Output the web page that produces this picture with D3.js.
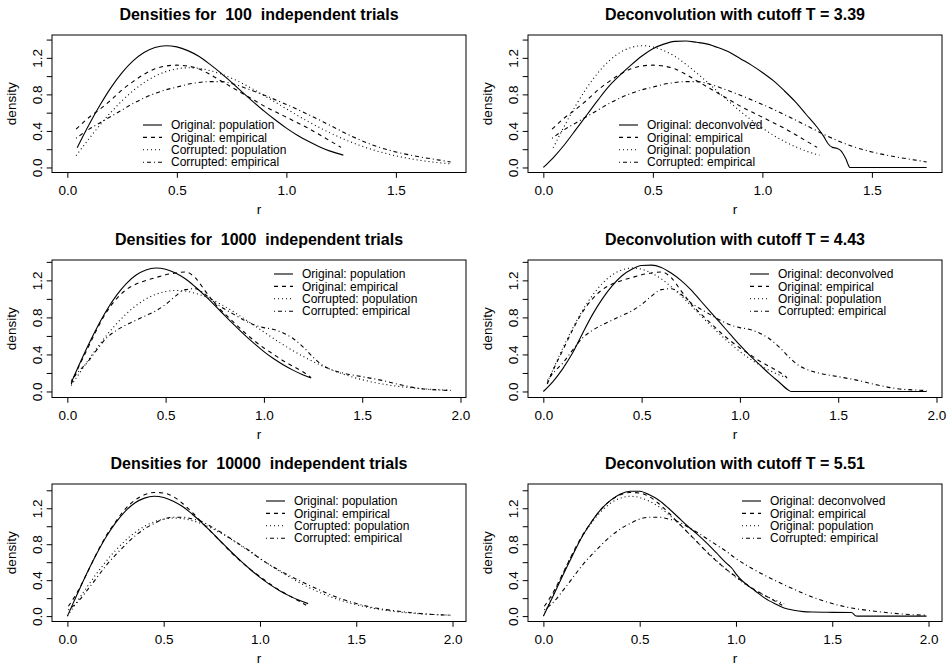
<!DOCTYPE html>
<html>
<head>
<meta charset="utf-8">
<script src="https://d3js.org/d3.v7.min.js"></script>
<style>
    html, body { margin: 0; padding: 0; background: #fff; }
    text { font-family: "Liberation Sans", Arial, Helvetica, sans-serif; fill: #000; }
</style>
</head>
<body>
<div id="chart"></div>
<script>
// ---- data: [r, density] ----
// row 1 (100 trials)
const popOrig1 = [[0.045,0.215],[0.1,0.472],[0.15,0.686],[0.2,0.877],[0.25,1.038],[0.3,1.166],[0.35,1.258],[0.4,1.313],[0.45,1.333],[0.5,1.32],[0.55,1.279],[0.6,1.217],[0.65,1.131],[0.7,1.035],[0.75,0.931],[0.8,0.822],[0.85,0.716],[0.9,0.614],[0.95,0.519],[1.0,0.431],[1.05,0.353],[1.1,0.286],[1.15,0.228],[1.2,0.179],[1.26,0.135]];
const empOrig1 = [[0.04,0.42],[0.1,0.55],[0.15,0.64],[0.2,0.74],[0.25,0.85],[0.3,0.94],[0.35,1.02],[0.4,1.08],[0.45,1.11],[0.5,1.12],[0.55,1.11],[0.6,1.08],[0.65,1.02],[0.7,0.95],[0.75,0.88],[0.8,0.81],[0.85,0.74],[0.9,0.67],[0.95,0.61],[1.0,0.55],[1.05,0.49],[1.1,0.43],[1.15,0.36],[1.2,0.29],[1.25,0.22]];
const popCorr1 = [[0.04,0.129],[0.1,0.318],[0.15,0.468],[0.2,0.607],[0.25,0.731],[0.3,0.839],[0.35,0.929],[0.4,0.999],[0.45,1.049],[0.5,1.079],[0.55,1.091],[0.6,1.085],[0.65,1.061],[0.7,1.025],[0.75,0.977],[0.8,0.919],[0.85,0.855],[0.9,0.785],[0.95,0.714],[1.0,0.642],[1.1,0.502],[1.2,0.378],[1.3,0.273],[1.4,0.19],[1.5,0.127],[1.6,0.082],[1.7,0.051],[1.75,0.04]];
const empCorr1 = [[0.04,0.32],[0.1,0.42],[0.15,0.49],[0.2,0.56],[0.25,0.63],[0.3,0.7],[0.35,0.76],[0.4,0.81],[0.45,0.85],[0.5,0.88],[0.55,0.91],[0.6,0.93],[0.65,0.94],[0.7,0.94],[0.75,0.92],[0.8,0.88],[0.9,0.79],[1.0,0.69],[1.1,0.58],[1.2,0.46],[1.3,0.34],[1.4,0.24],[1.5,0.17],[1.6,0.12],[1.7,0.08],[1.75,0.06]];
const deconv1 = [[0,0],[0.05,0.12],[0.1,0.26],[0.15,0.42],[0.2,0.58],[0.25,0.74],[0.3,0.89],[0.35,1.01],[0.4,1.12],[0.45,1.22],[0.5,1.3],[0.55,1.35],[0.6,1.38],[0.65,1.385],[0.7,1.37],[0.75,1.35],[0.8,1.31],[0.85,1.26],[0.9,1.19],[0.95,1.12],[1.0,1.04],[1.05,0.95],[1.1,0.84],[1.15,0.72],[1.2,0.58],[1.25,0.44],[1.28,0.34],[1.3,0.26],[1.32,0.22],[1.34,0.21],[1.36,0.18],[1.38,0.1],[1.4,0],[1.75,0]];

// row 2 (1000 trials)
const popOrig2 = [[0.02,0.097],[0.05,0.24],[0.1,0.472],[0.15,0.686],[0.2,0.877],[0.25,1.038],[0.3,1.166],[0.35,1.258],[0.4,1.313],[0.45,1.333],[0.5,1.32],[0.55,1.279],[0.6,1.217],[0.65,1.131],[0.7,1.035],[0.75,0.931],[0.8,0.822],[0.85,0.716],[0.9,0.614],[0.95,0.519],[1.0,0.431],[1.05,0.353],[1.1,0.286],[1.15,0.228],[1.2,0.179],[1.24,0.146]];
const empOrig2 = [[0.02,0.08],[0.05,0.23],[0.1,0.45],[0.15,0.67],[0.2,0.86],[0.25,1.0],[0.3,1.1],[0.35,1.16],[0.4,1.2],[0.45,1.23],[0.5,1.26],[0.55,1.28],[0.6,1.29],[0.65,1.23],[0.7,1.09],[0.75,0.95],[0.8,0.84],[0.85,0.74],[0.9,0.64],[0.95,0.55],[1.0,0.47],[1.05,0.4],[1.1,0.33],[1.15,0.27],[1.2,0.21],[1.24,0.15]];
const popCorr2 = [[0.02,0.065],[0.05,0.161],[0.1,0.318],[0.15,0.468],[0.2,0.607],[0.25,0.731],[0.3,0.839],[0.35,0.929],[0.4,0.999],[0.45,1.049],[0.5,1.079],[0.55,1.091],[0.6,1.085],[0.65,1.061],[0.7,1.025],[0.75,0.977],[0.8,0.919],[0.85,0.855],[0.9,0.785],[0.95,0.714],[1.0,0.642],[1.1,0.502],[1.2,0.378],[1.3,0.273],[1.4,0.19],[1.5,0.127],[1.6,0.082],[1.7,0.051],[1.8,0.031],[1.9,0.018],[1.95,0.013]];
const empCorr2 = [[0.02,0.12],[0.05,0.2],[0.1,0.31],[0.15,0.45],[0.2,0.58],[0.25,0.66],[0.3,0.72],[0.35,0.77],[0.4,0.82],[0.45,0.87],[0.5,0.94],[0.55,1.03],[0.6,1.1],[0.65,1.11],[0.7,1.05],[0.75,0.96],[0.8,0.89],[0.85,0.83],[0.9,0.77],[0.95,0.72],[1.0,0.69],[1.05,0.67],[1.1,0.63],[1.15,0.57],[1.2,0.48],[1.25,0.37],[1.3,0.28],[1.35,0.23],[1.4,0.2],[1.5,0.16],[1.6,0.12],[1.7,0.07],[1.8,0.03],[1.9,0.015],[1.95,0.01]];
const deconv2 = [[0,0],[0.05,0.11],[0.1,0.25],[0.15,0.42],[0.2,0.63],[0.25,0.83],[0.3,1.0],[0.35,1.14],[0.4,1.25],[0.45,1.32],[0.5,1.36],[0.55,1.365],[0.6,1.34],[0.65,1.28],[0.7,1.2],[0.75,1.1],[0.8,0.98],[0.85,0.86],[0.9,0.74],[0.95,0.62],[1.0,0.5],[1.05,0.39],[1.1,0.29],[1.15,0.19],[1.2,0.1],[1.25,0.01],[1.26,0],[1.95,0]];

// row 3 (10000 trials)
const popOrig3 = [[0,0],[0.05,0.24],[0.1,0.472],[0.15,0.686],[0.2,0.877],[0.25,1.038],[0.3,1.166],[0.35,1.258],[0.4,1.313],[0.45,1.333],[0.5,1.32],[0.55,1.279],[0.6,1.217],[0.65,1.131],[0.7,1.035],[0.75,0.931],[0.8,0.822],[0.85,0.716],[0.9,0.614],[0.95,0.519],[1.0,0.431],[1.05,0.353],[1.1,0.286],[1.15,0.228],[1.2,0.179],[1.25,0.139]];
const empOrig3 = [[0.005,0.11],[0.05,0.26],[0.1,0.47],[0.15,0.69],[0.2,0.89],[0.25,1.05],[0.3,1.19],[0.35,1.29],[0.4,1.35],[0.45,1.375],[0.5,1.37],[0.55,1.33],[0.6,1.25],[0.65,1.15],[0.7,1.04],[0.75,0.93],[0.8,0.82],[0.85,0.71],[0.9,0.61],[0.95,0.52],[1.0,0.44],[1.05,0.36],[1.1,0.29],[1.15,0.23],[1.2,0.17],[1.24,0.12]];
const popCorr3 = [[0,0],[0.05,0.161],[0.1,0.318],[0.15,0.468],[0.2,0.607],[0.25,0.731],[0.3,0.839],[0.35,0.929],[0.4,0.999],[0.45,1.049],[0.5,1.079],[0.55,1.091],[0.6,1.085],[0.65,1.061],[0.7,1.025],[0.75,0.977],[0.8,0.919],[0.85,0.855],[0.9,0.785],[0.95,0.714],[1.0,0.642],[1.1,0.502],[1.2,0.378],[1.3,0.273],[1.4,0.19],[1.5,0.127],[1.6,0.082],[1.7,0.051],[1.8,0.031],[1.9,0.018],[1.99,0.01]];
const empCorr3 = [[0.005,0.07],[0.05,0.15],[0.1,0.28],[0.15,0.42],[0.2,0.56],[0.25,0.68],[0.3,0.79],[0.35,0.89],[0.4,0.97],[0.45,1.03],[0.5,1.08],[0.55,1.1],[0.6,1.1],[0.65,1.08],[0.7,1.05],[0.75,0.99],[0.8,0.93],[0.85,0.86],[0.9,0.79],[0.95,0.72],[1.0,0.64],[1.1,0.51],[1.2,0.4],[1.3,0.3],[1.4,0.21],[1.5,0.14],[1.6,0.09],[1.7,0.06],[1.8,0.035],[1.9,0.018],[1.99,0.01]];
const deconv3 = [[0,0],[0.05,0.22],[0.1,0.45],[0.15,0.67],[0.2,0.88],[0.25,1.05],[0.3,1.19],[0.35,1.29],[0.4,1.36],[0.45,1.39],[0.5,1.39],[0.55,1.35],[0.6,1.29],[0.65,1.2],[0.7,1.1],[0.75,1.0],[0.8,0.91],[0.85,0.81],[0.9,0.7],[0.95,0.59],[0.98,0.53],[1.0,0.47],[1.02,0.42],[1.05,0.36],[1.1,0.28],[1.15,0.2],[1.2,0.14],[1.25,0.09],[1.3,0.065],[1.35,0.05],[1.4,0.045],[1.5,0.042],[1.6,0.04],[1.62,0.005],[1.63,0],[1.99,0]];

// titles, legends, ticks
const trials = ["100", "1000", "10000"];
const cutoffs = ["3.39", "4.43", "5.51"];
const legendLeft = ["Original: population", "Original: empirical", "Corrupted: population", "Corrupted: empirical"];
const legendRight = ["Original: deconvolved", "Original: empirical", "Original: population", "Corrupted: empirical"];
const xTicksRow = [[0, 0.5, 1, 1.5], [0, 0.5, 1, 1.5, 2], [0, 0.5, 1, 1.5, 2]];
const yTicks = [0, 0.2, 0.4, 0.6, 0.8, 1.0, 1.2, 1.4];
const yLabeled = [0, 0.4, 0.8, 1.2];

// ---- layout ----
const W = 952, H = 666;
const colX = [52, 528], rowY = [35, 260, 484];
const pw = 414, ph = 137.5;
const xDomains = [[-0.07, 1.82], [-0.078, 2.028], [-0.08, 2.07]];
const yDomains = [[-0.055, 1.45], [-0.065, 1.42], [-0.06, 1.47]];
const legendPos = [{lx: 91, tx: 119, y: 90}, {lx: 222, tx: 250, y: 14}, {lx: 214, tx: 242, y: 17}];
const dashes = {solid: null, dashed: "4,4", dotted: "1,3", dotdash: "1,3,4,3"};
const styles = ["solid", "dashed", "dotted", "dotdash"];

const rows = [
    {left: [popOrig1, empOrig1, popCorr1, empCorr1], right: [deconv1, empOrig1, popOrig1, empCorr1]},
    {left: [popOrig2, empOrig2, popCorr2, empCorr2], right: [deconv2, empOrig2, popOrig2, empCorr2]},
    {left: [popOrig3, empOrig3, popCorr3, empCorr3], right: [deconv3, empOrig3, popOrig3, empCorr3]}
];

const svg = d3.select("#chart").append("svg")
    .attr("width", W).attr("height", H);

function drawPanel(ri, ci, title, series, legend) {
    const g = svg.append("g")
        .attr("transform", "translate(" + colX[ci] + "," + rowY[ri] + ")");
    const x = d3.scaleLinear().domain(xDomains[ri]).range([0, pw]);
    const y = d3.scaleLinear().domain(yDomains[ri]).range([ph, 0]);

    // curves
    const line = d3.line()
        .x(d => x(d[0]))
        .y(d => y(d[1]))
        .curve(d3.curveMonotoneX);
    series.forEach((s, i) => {
        g.append("path")
            .datum(s)
            .attr("fill", "none")
            .attr("stroke", "#000")
            .attr("stroke-width", 1.1)
            .attr("stroke-dasharray", dashes[styles[i]])
            .attr("d", line);
    });

    // x axis (axis call sets its own font-size, so override after)
    const gx = g.append("g")
        .attr("transform", "translate(0," + ph + ")")
        .call(d3.axisBottom(x).tickValues(xTicksRow[ri]).tickSize(5.3).tickFormat(d3.format(".1f")))
        .attr("font-size", 13.5);
    gx.select(".domain").remove();
    gx.selectAll(".tick text").attr("y", 22.5).attr("dy", 0);

    // y axis, labels parallel to the axis
    const gy = g.append("g")
        .call(d3.axisLeft(y).tickValues(yTicks).tickSize(5.3)
            .tickFormat(d => yLabeled.some(v => Math.abs(v - d) < 1e-9) ? d3.format(".1f")(d) : ""))
        .attr("font-size", 13.5);
    gy.select(".domain").remove();
    gy.selectAll(".tick text")
        .attr("transform", "rotate(-90)")
        .attr("x", 0).attr("y", -10).attr("dy", 0)
        .attr("text-anchor", "middle");

    // box
    g.append("rect")
        .attr("width", pw).attr("height", ph)
        .attr("fill", "none").attr("stroke", "#000").attr("stroke-width", 1);

    // titles and axis labels
    g.append("text")
        .attr("x", pw / 2).attr("y", -15.5)
        .attr("text-anchor", "middle")
        .attr("font-size", 16).attr("font-weight", "bold")
        .style("white-space", "pre")
        .text(title);
    g.append("text")
        .attr("x", pw / 2).attr("y", ph + 41)
        .attr("text-anchor", "middle").attr("font-size", 13.5)
        .text("r");
    g.append("text")
        .attr("transform", "translate(-36," + (ph / 2) + ") rotate(-90)")
        .attr("text-anchor", "middle").attr("font-size", 13.5)
        .text("density");

    // legend
    const lp = legendPos[ri];
    legend.forEach((lab, i) => {
        const ly = lp.y + i * 12.4;
        g.append("line")
            .attr("x1", lp.lx).attr("x2", lp.lx + 19)
            .attr("y1", ly).attr("y2", ly)
            .attr("stroke", "#000").attr("stroke-width", 1.1)
            .attr("stroke-dasharray", dashes[styles[i]]);
        g.append("text")
            .attr("x", lp.tx).attr("y", ly).attr("dy", "0.35em")
            .attr("font-size", 12)
            .text(lab);
    });
}

rows.forEach((row, ri) => {
    drawPanel(ri, 0, "Densities for  " + trials[ri] + "  independent trials", row.left, legendLeft);
    drawPanel(ri, 1, "Deconvolution with cutoff T = " + cutoffs[ri], row.right, legendRight);
});
</script>
</body>
</html>
